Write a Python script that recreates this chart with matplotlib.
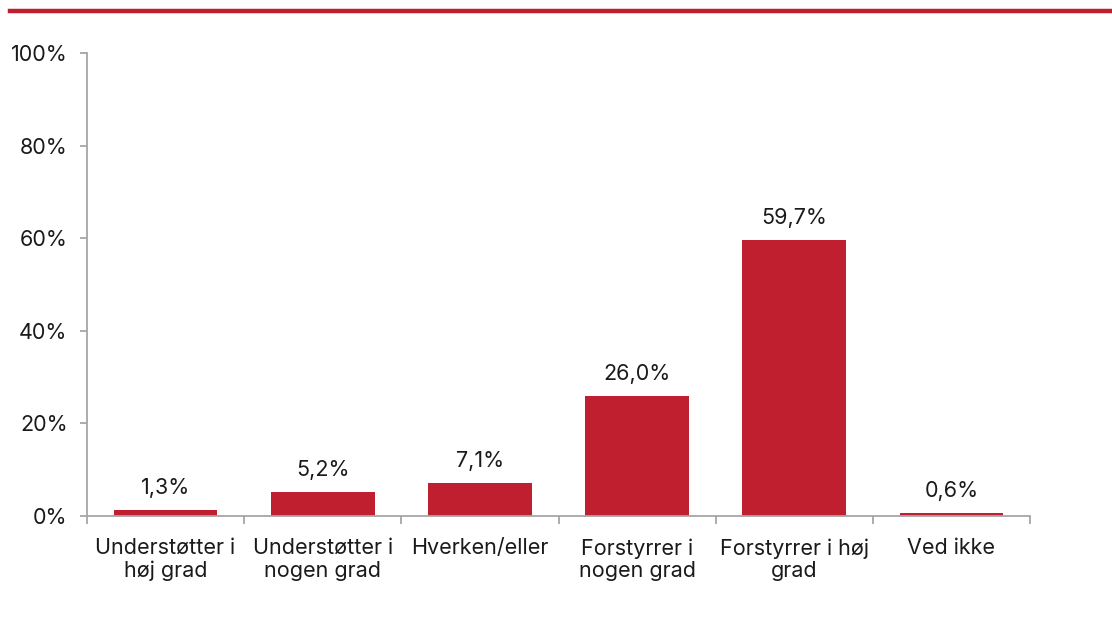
import matplotlib.pyplot as plt
from matplotlib.lines import Line2D
import numpy as np

# ----------------------------------------------------------------------
# Data
# ----------------------------------------------------------------------
categories = [
    "Understøtter i\nhøj grad",
    "Understøtter i\nnogen grad",
    "Hverken/eller",
    "Forstyrrer i\nnogen grad",
    "Forstyrrer i høj\ngrad",
    "Ved ikke",
]
values = [1.3, 5.2, 7.1, 26.0, 59.7, 0.6]
y_ticks = [0, 20, 40, 60, 80, 100]

RED = "#C01F2F"
GREY = "#A6A6A6"
TEXT = "#1a1a1a"

plt.rcParams["font.family"] = ["Inter", "DejaVu Sans"]
plt.rcParams["font.size"] = 15.5

# ----------------------------------------------------------------------
# Plot
# ----------------------------------------------------------------------
fig = plt.figure(figsize=(11.12, 6.21), dpi=100)
ax = fig.add_axes([0.0782, 0.1691, 0.8481, 0.7456])

x = np.arange(len(categories))
ax.bar(x, values, width=0.66, color=RED, zorder=2)

for xi, v in zip(x, values):
    ax.annotate(f"{v:.1f}%".replace(".", ","), (xi, v),
                xytext=(0, 8.5), textcoords="offset points",
                ha="center", va="bottom", color=TEXT)

ax.set_xlim(-0.5, len(categories) - 0.5)
ax.set_ylim(0, 100)
ax.set_yticks(y_ticks)
ax.set_yticklabels([f"{t}%" for t in y_ticks])

ax.set_xticks(x)
ax.set_xticklabels(categories, linespacing=1.15)
ax.set_xticks(np.arange(-0.5, len(categories)), minor=True)
ax.tick_params(axis="x", which="major", length=0, pad=16, labelcolor=TEXT)
ax.tick_params(axis="x", which="minor", length=6, width=1.3, color=GREY)
ax.tick_params(axis="y", length=5, width=1.3, color=GREY, pad=9,
               labelcolor=TEXT)

for side in ["top", "right"]:
    ax.spines[side].set_visible(False)
for side in ["left", "bottom"]:
    ax.spines[side].set_color(GREY)
    ax.spines[side].set_linewidth(1.3)

# red rule at top
fig.add_artist(Line2D([10 / 1112, 1.0], [1 - 11 / 621, 1 - 11 / 621],
                      color=RED, linewidth=3.2, transform=fig.transFigure))

fig.savefig("out.png", dpi=100)
